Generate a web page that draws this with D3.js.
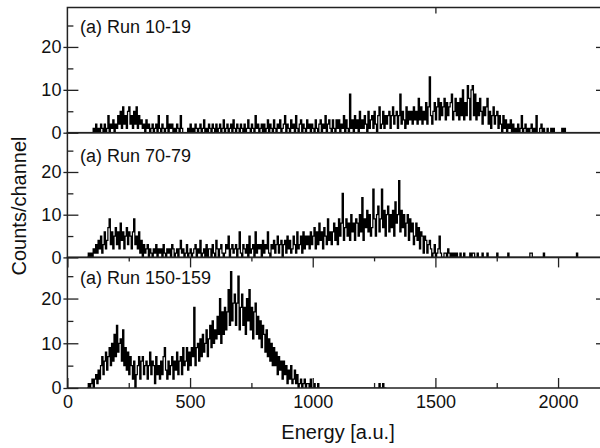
<!DOCTYPE html>
<html>
<head>
<meta charset="utf-8">
<script src="https://cdn.jsdelivr.net/npm/d3@7"></script>
<style>
  body { margin: 0; background: #fff; }
  text { font-family: "Liberation Sans", Arial, sans-serif; fill: #111; }
</style>
</head>
<body>
<div class="chart"></div>
<script>
// channel width of the histograms (energy units)
var binWidth = 5;

// Run 10-19, first channel at E=100
var run10Start = 100;
var run10 = [
  0,1,0,2,0,1,0,2,1,0,2,0,1,4,0,2,1,3,0,2,
  1,4,2,5,1,6,2,4,1,5,6,2,4,1,5,2,6,1,4,2,
  3,1,2,0,3,1,2,0,1,2,0,1,2,0,4,1,0,2,1,0,
  1,4,0,2,1,2,0,1,0,2,1,0,4,1,0,0,0,0,1,0,
  2,0,1,0,2,1,0,1,2,0,1,3,0,1,0,2,1,0,2,1,
  0,2,0,1,2,0,1,3,0,1,2,0,1,2,0,3,1,0,2,1,
  0,2,1,0,2,0,1,3,1,0,2,1,0,4,1,2,0,1,2,0,
  2,0,1,3,0,2,1,0,3,1,0,2,1,3,0,1,2,4,0,2,
  1,0,3,1,2,0,4,1,0,2,3,0,2,1,0,3,1,2,0,2,
  1,0,3,1,0,2,3,0,2,1,4,0,2,3,1,0,3,1,0,3,
  1,3,0,2,1,4,0,3,1,0,9,1,3,0,4,1,3,0,5,1,
  3,1,4,2,0,5,1,3,4,1,5,2,0,4,6,1,2,5,1,4,
  2,4,5,1,4,6,2,4,5,1,4,9,2,5,3,1,6,2,5,3,
  5,2,6,3,5,2,8,3,6,2,5,3,7,2,6,13,4,2,5,7,
  3,6,8,3,7,4,6,8,3,7,4,6,7,9,3,5,8,4,7,3,
  8,4,10,3,7,4,11,8,3,10,11,4,9,3,7,4,8,5,2,6,
  4,6,8,2,5,1,4,6,2,4,5,1,4,2,0,4,1,3,0,2,
  1,3,0,2,0,1,0,2,0,1,4,0,1,2,0,1,0,1,2,0,
  1,0,4,0,0,1,2,0,1,0,0,1,0,0,1,0,1,0,0,0,
  0,0,0,1,0,1,0,0,0,0
];

// Run 70-79, first channel at E=80
var run70Start = 80;
var run70 = [
  0,1,0,1,0,2,1,3,1,4,2,5,1,3,6,2,4,7,9,3,
  6,2,5,7,3,6,2,8,4,6,2,5,7,3,6,5,2,6,9,3,
  5,2,6,1,4,0,3,1,2,3,0,2,1,0,2,1,3,0,2,1,
  2,0,3,1,0,2,1,2,0,3,2,0,1,2,0,2,4,1,2,0,
  1,3,0,1,2,0,1,2,3,0,2,1,4,0,1,2,0,3,0,2,
  2,0,3,1,0,4,2,0,2,3,1,0,1,3,2,5,0,2,3,1,
  2,3,0,2,6,1,0,3,2,1,3,0,5,1,2,3,0,6,1,3,
  2,3,0,4,1,3,2,6,1,0,3,2,4,1,3,5,1,3,4,0,
  3,4,1,5,2,4,1,2,5,3,1,6,2,3,5,1,6,2,5,3,
  5,2,6,3,5,7,2,6,3,8,4,6,2,7,5,3,9,4,6,3,
  6,8,4,7,3,9,5,8,15,4,7,9,5,8,4,10,6,8,4,9,
  8,5,10,6,14,4,9,7,11,6,10,5,7,16,9,5,10,12,6,9,
  16,7,11,5,10,12,6,10,7,11,5,13,8,10,18,6,11,7,10,5,
  8,10,4,9,6,8,3,5,8,4,7,2,6,5,1,5,4,1,3,4,
  2,0,1,3,0,1,2,5,1,0,0,1,1,0,2,1,0,1,0,1,
  0,1,0,0,1,0,0,1,0,0,0,0,1,0,1,1,0,0,1,0,
  0,0,1,0,0,0,1,0,0,0,0,0,0,0,1,0,0,0,0,0,
  0,0,0,1,0,0,0,0,0,0,0,0,0,0,0,0,0,0,0,0,
  0,1,1,0,0,0,0,0,0,0,0,0,1,0,0,0,0,0,0,0,
  0,0,0,0,0,0,0,0,0,0,0,0,0,0,0,0,0,0,0,1
];

// Run 150-159, first channel at E=80
var run150Start = 80;
var run150 = [
  0,1,0,1,2,0,2,3,1,4,2,5,7,3,6,8,4,7,9,5,
  10,6,12,7,14,8,10,11,6,13,5,9,4,8,3,7,5,2,6,0,
  3,5,7,2,6,7,3,5,6,2,5,8,3,6,5,1,7,3,5,2,
  6,3,7,9,4,2,6,3,5,7,2,6,4,8,3,6,7,3,9,5,
  6,9,4,8,5,9,7,18,5,9,10,6,11,7,12,8,10,13,7,11,
  14,9,15,10,13,11,16,12,20,10,17,12,18,13,17,22,14,26,15,19,
  21,14,19,25,13,18,21,14,18,12,20,15,22,13,18,11,17,19,12,16,
  11,15,9,14,12,8,13,7,11,6,10,5,9,5,8,3,7,4,6,2,
  6,3,5,1,4,2,5,1,2,4,1,3,0,1,2,0,1,2,0,1,
  1,0,2,0,0,1,0,0,1,0,0,0,0,0,0,0,0,0,0,0,
  0,0,0,0,0,0,0,0,0,0,0,0,0,0,0,0,0,0,0,0,
  0,0,0,0,0,0,0,0,0,0,0,0,0,0,0,0,0,0,1,0,
  0,1,0,0
];

var panelLabels = ["(a) Run 10-19", "(a) Run 70-79", "(a) Run 150-159"];
var xTicks = [0, 500, 1000, 1500, 2000];
var xMinorTicks = [250, 750, 1250, 1750];
var yTicks = [0, 10, 20];
var yMinorTicks = [5, 15, 25];
var topTickRun10 = [1500];

var svgWidth = 600;
var svgHeight = 448;
var plotLeft = 67.4;
var plotRight = 601;

var svg = d3.select(".chart")
  .append("svg")
  .attr("width", svgWidth)
  .attr("height", svgHeight);

var x = d3.scaleLinear()
  .domain([0, 2175])
  .range([plotLeft, plotRight]);

var panels = [
  { values: run10, start: run10Start, label: panelLabels[0], top: 7.5, bottom: 132.7, labelY: 33 },
  { values: run70, start: run70Start, label: panelLabels[1], top: 132.7, bottom: 257.4, labelY: 162 },
  { values: run150, start: run150Start, label: panelLabels[2], top: 257.4, bottom: 388, labelY: 284 }
];

function styleTicks(g) {
  g.select(".domain").remove();
  g.selectAll(".tick line").attr("stroke", "#222").attr("stroke-width", 1.3);
  g.attr("font-size", 18).attr("font-family", null);
}

panels.forEach(function (p, i) {
  var y = d3.scaleLinear()
    .domain([0, 29.2])
    .range([p.bottom, p.top]);

  // clip
  svg.append("clipPath")
    .attr("id", "clip" + i)
    .append("rect")
    .attr("x", plotLeft)
    .attr("y", p.top)
    .attr("width", plotRight - plotLeft)
    .attr("height", p.bottom - p.top);

  // histogram points: step-after through each channel
  var pts = [[p.start, 0]];
  p.values.forEach(function (v, k) {
    pts.push([p.start + k * binWidth, v]);
  });
  pts.push([p.start + p.values.length * binWidth, 0]);

  var line = d3.line()
    .x(d => x(d[0]))
    .y(d => y(d[1]))
    .curve(d3.curveStepAfter);

  svg.append("path")
    .datum(pts)
    .attr("clip-path", "url(#clip" + i + ")")
    .attr("fill", "none")
    .attr("stroke", "#000")
    .attr("stroke-width", 1.25)
    .attr("d", line);

  // left axis: major ticks inward with labels
  svg.append("g")
    .attr("transform", `translate(${plotLeft},0)`)
    .call(d3.axisLeft(y).tickValues(yTicks).tickSize(-11).tickPadding(6).tickFormat(d3.format("d")))
    .call(styleTicks);

  // outward stubs of major ticks
  svg.append("g")
    .attr("transform", `translate(${plotLeft},0)`)
    .call(d3.axisLeft(y).tickValues(yTicks).tickSize(4).tickFormat(""))
    .call(styleTicks);

  // minor ticks
  svg.append("g")
    .attr("transform", `translate(${plotLeft},0)`)
    .call(d3.axisLeft(y).tickValues(yMinorTicks).tickSize(-6).tickFormat(""))
    .call(styleTicks);

  // right ticks
  svg.append("g")
    .attr("transform", `translate(${plotRight},0)`)
    .call(d3.axisRight(y).tickValues([10, 20]).tickSize(-5).tickFormat(""))
    .call(styleTicks);

  // frame
  svg.append("rect")
    .attr("x", plotLeft)
    .attr("y", p.top)
    .attr("width", plotRight - plotLeft)
    .attr("height", p.bottom - p.top)
    .attr("fill", "none")
    .attr("stroke", "#222")
    .attr("stroke-width", 1.5);

  // panel label
  svg.append("text")
    .attr("x", 80)
    .attr("y", p.labelY)
    .style("font-size", "18px")
    .text(p.label);

  if (i === 0) {
    svg.append("g")
      .attr("transform", `translate(0,${p.top})`)
      .call(d3.axisTop(x).tickValues(topTickRun10).tickSize(-6).tickFormat(""))
      .call(styleTicks);
  }

  if (i === 2) {
    // ticks hanging from the top edge of the bottom panel
    svg.append("g")
      .attr("transform", `translate(0,${p.top})`)
      .call(d3.axisTop(x).tickValues(xTicks).tickSize(-10).tickFormat(""))
      .call(styleTicks);
    svg.append("g")
      .attr("transform", `translate(0,${p.top})`)
      .call(d3.axisTop(x).tickValues(xMinorTicks).tickSize(-4).tickFormat(""))
      .call(styleTicks);

    // bottom x axis
    svg.append("g")
      .attr("transform", `translate(0,${p.bottom})`)
      .call(d3.axisBottom(x).tickValues(xTicks).tickSize(-10).tickPadding(7).tickFormat(d3.format("d")))
      .call(styleTicks);
    svg.append("g")
      .attr("transform", `translate(0,${p.bottom})`)
      .call(d3.axisBottom(x).tickValues(xMinorTicks).tickSize(-5).tickFormat(""))
      .call(styleTicks);
  }
});

// axis titles
svg.append("text")
  .attr("x", 338)
  .attr("y", 439)
  .attr("text-anchor", "middle")
  .style("font-size", "20px")
  .text("Energy [a.u.]");

svg.append("text")
  .attr("transform", "translate(26,206) rotate(-90)")
  .attr("text-anchor", "middle")
  .style("font-size", "20px")
  .text("Counts/channel");
</script>
</body>
</html>
